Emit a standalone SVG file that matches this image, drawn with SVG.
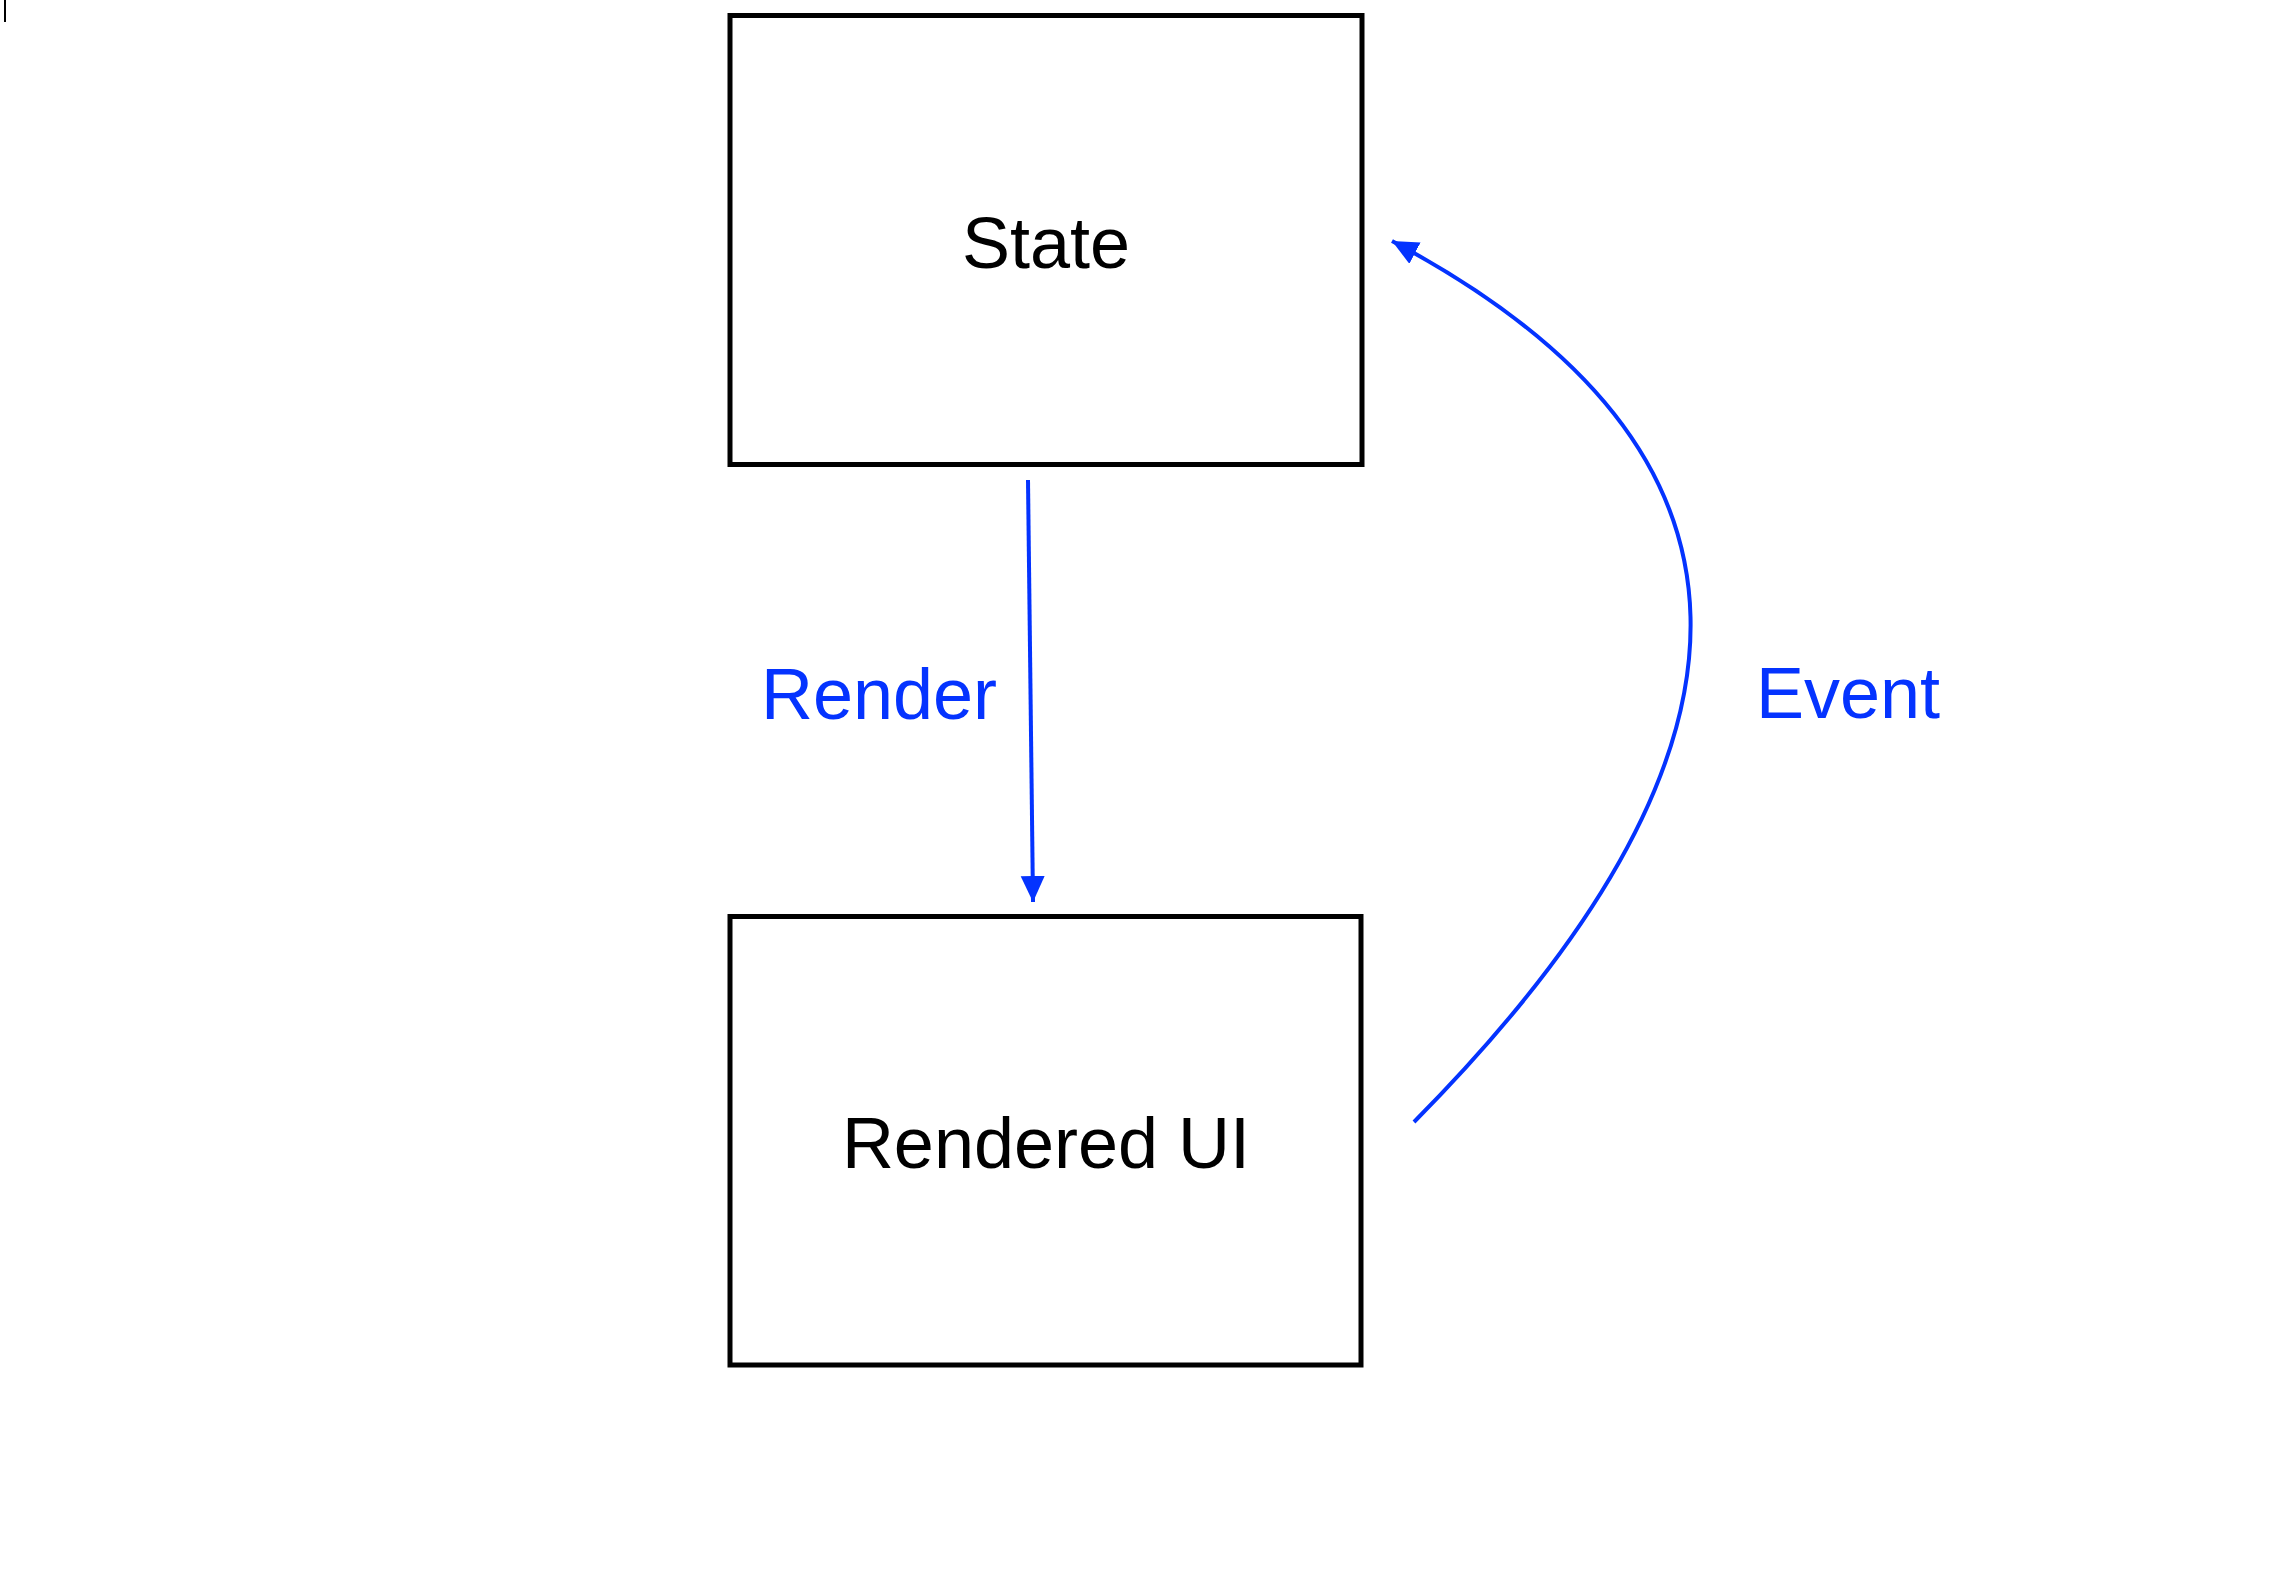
<svg xmlns="http://www.w3.org/2000/svg" width="2290" height="1576" viewBox="0 0 2290 1576">
<style>
.box{fill:#fff;stroke:#000;stroke-width:5}
.nt{font-family:"Liberation Sans",Arial,sans-serif;font-size:72px;fill:#000;text-anchor:middle}
.et{font-family:"Liberation Sans",Arial,sans-serif;font-size:72px;fill:#0433ff;text-anchor:middle}
.conn{fill:none;stroke:#0433ff;stroke-width:4}
</style>
<defs>
<marker id="ah" markerUnits="userSpaceOnUse" markerWidth="30" markerHeight="26" refX="26" refY="12" orient="auto">
<path d="M0,0 L26,12 L0,24 z" fill="#0433ff"/>
</marker>
</defs>
<rect width="2290" height="1576" fill="#fff"/>
<line x1="5" y1="0" x2="5" y2="22" stroke="#000" stroke-width="2"/>
<g id="state">
<rect class="box" x="730" y="15.5" width="632" height="449"/>
<text class="nt" x="1046" y="268">State</text>
</g>
<g id="rendered-ui">
<rect class="box" x="730" y="916.5" width="631" height="448.5"/>
<text class="nt" x="1046" y="1168">Rendered UI</text>
</g>
<g id="connectors">
<line class="conn" x1="1028" y1="480" x2="1033" y2="902" marker-end="url(#ah)"/>
<path class="conn" d="M1414,1122 Q1978,552 1392,241" marker-end="url(#ah)"/>
<text class="et" x="879" y="719">Render</text>
<text class="et" x="1848" y="718">Event</text>
</g>
</svg>
